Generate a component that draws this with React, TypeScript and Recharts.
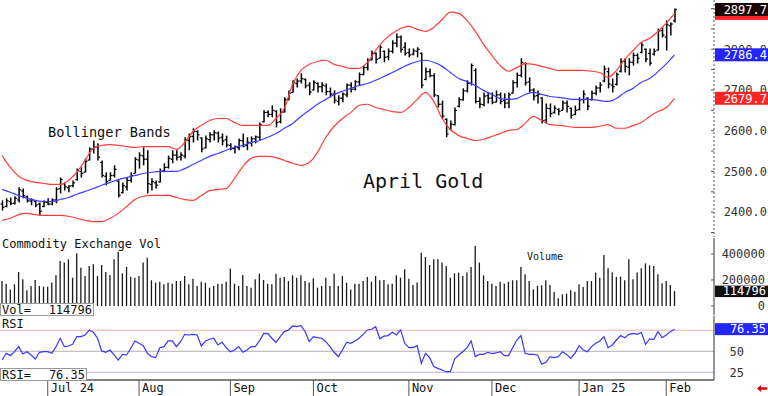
import React from 'react';
import { ComposedChart, Bar, Line, XAxis, YAxis, ReferenceLine } from 'recharts';

const MONO = '"DejaVu Sans Mono", monospace';
const W = 768;
const AXIS_W = 54;
const SLOTS = 172; // 163 sessions + free room on the right edge

// April gold, daily sessions 13 Jun 2024 .. 5 Feb 2025
const highs = [
  2429, 2434, 2436, 2439, 2461, 2458, 2441, 2434, 2429, 2424,
  2429, 2434, 2434, 2461, 2485, 2473, 2466, 2478, 2507, 2510,
  2532, 2559, 2576, 2569, 2527, 2498, 2498, 2515, 2478, 2473,
  2485, 2498, 2535, 2547, 2559, 2552, 2483, 2478, 2507, 2520,
  2539, 2552, 2552, 2547, 2584, 2593, 2606, 2601, 2584, 2588,
  2596, 2601, 2598, 2593, 2588, 2569, 2564, 2581, 2593, 2584,
  2586, 2588, 2620, 2650, 2650, 2662, 2650, 2655, 2682, 2699,
  2724, 2728, 2741, 2728, 2719, 2724, 2719, 2719, 2716, 2706,
  2699, 2687, 2694, 2716, 2719, 2724, 2743, 2760, 2778, 2797,
  2792, 2810, 2797, 2802, 2822, 2839, 2834, 2817, 2802, 2802,
  2805, 2792, 2755, 2753, 2741, 2687, 2674, 2630, 2625, 2657,
  2682, 2704, 2724, 2765, 2753, 2682, 2694, 2694, 2694, 2699,
  2694, 2692, 2694, 2724, 2743, 2778, 2768, 2731, 2704, 2699,
  2682, 2667, 2667, 2662, 2655, 2674, 2674, 2657, 2662, 2682,
  2699, 2682, 2699, 2711, 2719, 2760, 2755, 2728, 2743, 2778,
  2778, 2778, 2792, 2790, 2817, 2802, 2802, 2802, 2851, 2854,
  2871, 2866, 2900,
];
const lows = [
  2404, 2412, 2417, 2419, 2424, 2434, 2424, 2417, 2412, 2392,
  2412, 2417, 2417, 2422, 2446, 2453, 2449, 2461, 2478, 2485,
  2498, 2527, 2544, 2527, 2485, 2466, 2478, 2485, 2436, 2446,
  2453, 2473, 2495, 2507, 2515, 2446, 2453, 2458, 2473, 2498,
  2507, 2520, 2527, 2527, 2532, 2552, 2571, 2576, 2547, 2557,
  2571, 2576, 2571, 2564, 2559, 2552, 2544, 2552, 2559, 2552,
  2561, 2569, 2576, 2620, 2633, 2633, 2608, 2618, 2645, 2674,
  2694, 2706, 2716, 2704, 2687, 2699, 2694, 2694, 2687, 2682,
  2667, 2662, 2670, 2682, 2694, 2699, 2711, 2736, 2748, 2773,
  2765, 2778, 2768, 2773, 2790, 2805, 2792, 2785, 2780, 2785,
  2780, 2704, 2724, 2731, 2682, 2657, 2630, 2584, 2601, 2613,
  2657, 2674, 2694, 2711, 2667, 2655, 2660, 2667, 2665, 2670,
  2665, 2655, 2655, 2692, 2706, 2731, 2711, 2694, 2674, 2667,
  2618, 2618, 2633, 2642, 2638, 2650, 2645, 2630, 2638, 2650,
  2667, 2650, 2674, 2687, 2694, 2719, 2704, 2694, 2711, 2743,
  2743, 2736, 2760, 2765, 2790, 2768, 2760, 2785, 2797, 2829,
  2797, 2834, 2866,
];
const opens = [
  2420, 2414, 2426, 2422, 2430, 2452, 2438, 2427, 2426, 2420,
  2414, 2424, 2420, 2430, 2458, 2470, 2460, 2465, 2480, 2500,
  2498, 2528, 2556, 2560, 2522, 2488, 2478, 2490, 2476, 2448,
  2462, 2478, 2495, 2528, 2538, 2530, 2468, 2472, 2474, 2502,
  2510, 2530, 2540, 2536, 2538, 2576, 2586, 2598, 2582, 2558,
  2578, 2590, 2594, 2584, 2578, 2564, 2556, 2558, 2575, 2564,
  2570, 2580, 2584, 2622, 2645, 2640, 2648, 2622, 2646, 2678,
  2694, 2716, 2722, 2726, 2712, 2700, 2716, 2708, 2710, 2696,
  2690, 2672, 2680, 2688, 2712, 2702, 2720, 2738, 2755, 2774,
  2790, 2778, 2795, 2782, 2795, 2815, 2830, 2805, 2792, 2788,
  2795, 2790, 2726, 2745, 2735, 2686, 2665, 2628, 2604, 2615,
  2660, 2676, 2698, 2716, 2748, 2672, 2664, 2686, 2680, 2670,
  2688, 2674, 2668, 2692, 2718, 2736, 2765, 2720, 2700, 2686,
  2680, 2626, 2654, 2645, 2652, 2650, 2668, 2655, 2640, 2652,
  2676, 2680, 2676, 2692, 2705, 2722, 2745, 2712, 2714, 2746,
  2770, 2756, 2768, 2785, 2792, 2800, 2790, 2788, 2798, 2846,
  2830, 2858, 2870,
];
const closes = [
  2412, 2428, 2421, 2434, 2455, 2440, 2428, 2430, 2418, 2402,
  2425, 2420, 2430, 2456, 2480, 2462, 2464, 2472, 2502, 2495,
  2525, 2555, 2560, 2535, 2490, 2475, 2490, 2505, 2442, 2465,
  2478, 2490, 2530, 2540, 2530, 2470, 2475, 2466, 2500, 2510,
  2532, 2540, 2535, 2540, 2578, 2585, 2598, 2590, 2555, 2580,
  2590, 2595, 2582, 2575, 2565, 2556, 2560, 2576, 2562, 2572,
  2580, 2585, 2615, 2645, 2640, 2650, 2620, 2645, 2676, 2692,
  2718, 2722, 2728, 2710, 2695, 2718, 2708, 2712, 2696, 2690,
  2675, 2680, 2690, 2712, 2702, 2720, 2738, 2755, 2772, 2790,
  2775, 2805, 2780, 2795, 2815, 2830, 2800, 2790, 2786, 2796,
  2800, 2712, 2745, 2735, 2688, 2665, 2636, 2592, 2616, 2650,
  2676, 2698, 2716, 2760, 2672, 2665, 2685, 2680, 2670, 2688,
  2672, 2668, 2688, 2718, 2736, 2768, 2718, 2700, 2685, 2690,
  2625, 2655, 2642, 2655, 2648, 2668, 2660, 2638, 2650, 2676,
  2690, 2660, 2692, 2705, 2712, 2752, 2715, 2708, 2738, 2770,
  2758, 2768, 2785, 2778, 2810, 2776, 2766, 2795, 2845, 2835,
  2860, 2862, 2897.7,
];

// Bollinger bands, read every second session
const upperBand = [
  2539, 2510, 2488, 2478, 2473, 2471, 2468, 2468, 2478, 2498,
  2527, 2557, 2564, 2566, 2564, 2561, 2559, 2561, 2561, 2561,
  2561, 2554, 2571, 2598, 2613, 2625, 2630, 2630, 2620, 2613,
  2613, 2613, 2613, 2630, 2655, 2714, 2748, 2763, 2770, 2773,
  2763, 2758, 2753, 2753, 2768, 2797, 2822, 2839, 2851, 2856,
  2849, 2844, 2854, 2873, 2891, 2888, 2871, 2844, 2812, 2785,
  2760, 2746, 2755, 2765, 2763, 2758, 2753, 2748, 2748, 2748,
  2748, 2746, 2743, 2731, 2748, 2775, 2797, 2817, 2827, 2844,
  2864, 2888,
];
const midBand = [
  2456, 2449, 2441, 2434, 2429, 2426, 2426, 2431, 2436, 2444,
  2451, 2458, 2466, 2473, 2480, 2485, 2490, 2495, 2498, 2500,
  2500, 2500, 2507, 2517, 2527, 2537, 2544, 2552, 2559, 2564,
  2571, 2576, 2584, 2593, 2606, 2618, 2635, 2650, 2665, 2677,
  2689, 2697, 2704, 2711, 2716, 2724, 2733, 2743, 2753, 2763,
  2770, 2773, 2768, 2758, 2743, 2728, 2721, 2711, 2699, 2689,
  2679, 2677, 2679, 2689, 2694, 2689, 2684, 2682, 2679, 2677,
  2677, 2677, 2674, 2672, 2679, 2694, 2704, 2719, 2728, 2745,
  2764, 2786.4,
];
const lowerBand = [
  2380, 2385, 2394, 2397, 2394, 2392, 2392, 2392, 2390, 2385,
  2380, 2377, 2377, 2385, 2397, 2414, 2431, 2439, 2441, 2441,
  2441, 2436, 2431, 2429, 2441, 2453, 2456, 2458, 2483, 2512,
  2532, 2537, 2537, 2534, 2527, 2520, 2515, 2522, 2547, 2584,
  2611, 2630, 2645, 2662, 2665, 2657, 2652, 2647, 2645, 2657,
  2677, 2694, 2672, 2630, 2603, 2588, 2581, 2576, 2579, 2586,
  2593, 2601, 2603, 2618, 2635, 2625, 2615, 2613, 2611, 2608,
  2608, 2608, 2611, 2615, 2606, 2606, 2613, 2620, 2635, 2647,
  2657, 2679.7,
];

const volumes = [
  192000, 172000, 128000, 167000, 262000, 205000, 121000, 154000, 200000, 154000,
  149000, 149000, 180000, 236000, 346000, 334000, 359000, 218000, 405000, 295000,
  231000, 308000, 321000, 231000, 316000, 262000, 239000, 359000, 418000, 251000,
  300000, 226000, 218000, 231000, 334000, 372000, 198000, 180000, 187000, 167000,
  180000, 172000, 192000, 192000, 231000, 167000, 210000, 154000, 187000, 180000,
  141000, 154000, 172000, 172000, 187000, 287000, 172000, 154000, 239000, 154000,
  141000, 205000, 249000, 200000, 172000, 167000, 249000, 218000, 223000, 192000,
  236000, 218000, 236000, 192000, 180000, 213000, 141000, 154000, 218000, 154000,
  249000, 154000, 231000, 180000, 128000, 172000, 172000, 192000, 223000, 187000,
  231000, 198000, 200000, 167000, 172000, 236000, 218000, 282000, 210000, 162000,
  180000, 410000, 377000, 316000, 359000, 359000, 334000, 308000, 218000, 251000,
  257000, 231000, 257000, 300000, 462000, 334000, 236000, 192000, 172000, 154000,
  187000, 172000, 187000, 198000, 198000, 300000, 244000, 192000, 128000, 154000,
  159000, 198000, 162000, 108000, 59000, 90000, 95000, 121000, 110000, 167000,
  146000, 192000, 192000, 257000, 218000, 393000, 290000, 257000, 223000, 226000,
  198000, 359000, 205000, 257000, 290000, 328000, 313000, 308000, 244000, 175000,
  192000, 162000, 114796,
];

const rsi = [
  39.6, 47.6, 44.8, 49.5, 55.5, 46.8, 49.5, 45.6, 40.8, 48.8,
  49.5, 49.5, 47.6, 55.5, 65.5, 55.5, 56.3, 58.3, 67.4, 67.4,
  69.4, 75.4, 72.6, 65.5, 50.4, 48.8, 51.5, 45.6, 39.6, 46.3,
  45.6, 53.6, 62.3, 59.5, 56.7, 47.6, 43.6, 42.4, 54.3, 55.5,
  62.3, 62.3, 55.5, 61.4, 70.2, 69.4, 70.2, 69.4, 56.3, 62.3,
  64.3, 65.5, 57.5, 60.7, 54.3, 49.5, 51.5, 55.5, 48.8, 51.5,
  55.5, 55.5, 62.3, 71.0, 71.4, 65.5, 60.7, 67.4, 73.4, 75.4,
  80.1, 79.3, 80.5, 73.4, 61.4, 67.4, 66.2, 65.5, 61.4, 55.5,
  48.8, 43.6, 51.5, 60.7, 59.5, 62.3, 65.5, 70.2, 75.4, 76.2,
  79.3, 64.9, 68.0, 68.7, 72.6, 69.4, 75.4, 59.5, 54.3, 54.3,
  56.7, 35.7, 47.6, 42.4, 31.7, 29.7, 27.7, 25.7, 25.7, 40.8,
  45.6, 49.5, 54.3, 62.3, 43.6, 46.3, 46.3, 48.8, 47.2, 48.0,
  49.5, 44.8, 44.8, 54.3, 63.4, 68.7, 47.6, 46.3, 46.3, 45.6,
  34.5, 36.9, 43.6, 42.4, 43.6, 49.5, 46.3, 41.6, 47.6, 56.7,
  51.5, 49.5, 55.5, 59.5, 62.3, 67.4, 54.3, 57.5, 63.4, 68.7,
  66.2, 70.2, 71.4, 70.2, 72.6, 58.3, 64.7, 64.3, 73.4, 66.2,
  69.4, 73.4, 76.35,
];

const monthStarts = [
  { at: 11, label: 'Jul 24' },
  { at: 33, label: 'Aug' },
  { at: 55, label: 'Sep' },
  { at: 75, label: 'Oct' },
  { at: 98, label: 'Nov' },
  { at: 118, label: 'Dec' },
  { at: 139, label: 'Jan 25' },
  { at: 160, label: 'Feb' },
];

const priceLabels = [2400, 2500, 2600, 2700, 2800];
const priceMarks = [2350, 2400, 2450, 2500, 2550, 2600, 2650, 2700, 2750, 2800, 2850, 2900];
const volLabels = [0, 200000, 400000];
const rsiLabels = [50, 25];
const rsiGuides = [
  { v: 75, c: '#ffb0b0' },
  { v: 50, c: '#b0b0b0' },
  { v: 25, c: '#b0b0ff' },
];

const n = closes.length;
const lastVol = volumes[n - 1];
const lastRsi = rsi[n - 1];
// last-value tags on the price scale (upper band tag sits under the close tag)
const priceTags = [
  { v: lowerBand[lowerBand.length - 1], bg: '#ff2424', label: true },
  { v: midBand[midBand.length - 1], bg: '#2424ff', label: true },
  { v: upperBand[upperBand.length - 1], bg: '#ff2424', label: false },
  { v: closes[n - 1], bg: '#1a0404', label: true },
];

const rows = closes.map((c, i) => ({
  i,
  range: [lows[i], highs[i]],
  o: opens[i],
  c,
  vol: volumes[i],
  rsi: rsi[i],
}));

const bandRows = upperBand.map((up, k) => ({
  i: k * 2,
  up,
  mid: midBand[k],
  lo: lowerBand[k],
}));

const xDomain = [-0.5, SLOTS - 0.5];
const txt = { fontFamily: MONO, fontSize: 12 };

function OhlcBar(props: any) {
  const { x, y, width, height, payload } = props;
  if (!payload || !payload.range) return <g />;
  const [lo, hi] = payload.range;
  const top = Math.min(y, y + height);
  const h = Math.abs(height);
  const cx = x + width / 2;
  const at = (v: number) => top + ((hi - v) / (hi - lo || 1)) * h;
  const yo = at(payload.o);
  const yc = at(payload.c);
  return (
    <g stroke="#000">
      <line x1={cx} x2={cx} y1={top} y2={top + h} strokeWidth={1.5} />
      <line x1={cx - 2} x2={cx} y1={yo} y2={yo} strokeWidth={1.2} />
      <line x1={cx} x2={cx + 2} y1={yc} y2={yc} strokeWidth={1.2} />
    </g>
  );
}

function VolStick(props: any) {
  const { x, y, width, height } = props;
  if (!height) return <g />;
  const cx = x + width / 2;
  return (
    <line x1={cx} x2={cx} y1={Math.min(y, y + height)} y2={Math.max(y, y + height)} stroke="#1a1a1a" strokeWidth={1.3} />
  );
}

function PriceTick(props: any) {
  const { x, y, payload } = props;
  const v = payload.value;
  const tag = priceTags.find((t) => t.v === v);
  if (tag) {
    return (
      <g>
        <rect x={x + 1} y={y - 6.5} width={AXIS_W - 1} height={13} fill={tag.bg} />
        {tag.label && (
          <text x={x + 53} y={y + 4.3} textAnchor="end" fill="#fff" {...txt}>{v.toFixed(1)}</text>
        )}
      </g>
    );
  }
  return (
    <g>
      <line x1={x - 3} x2={x} y1={y} y2={y} stroke="#555" />
      {priceLabels.includes(v) && (
        <text x={x + 53} y={y + 4.3} textAnchor="end" fill="#333" {...txt}>{v.toFixed(1)}</text>
      )}
    </g>
  );
}

function LeftMark(props: any) {
  const { x, y } = props;
  return <line x1={x} x2={x + 3} y1={y} y2={y} stroke="#555" />;
}

function VolTick(props: any) {
  const { x, y, payload } = props;
  const v = payload.value;
  if (!volLabels.includes(v)) {
    return (
      <g>
        <rect x={x + 1} y={y - 5.5} width={AXIS_W - 1} height={11.5} fill="#111" />
        <text x={x + 52} y={y + 4.3} textAnchor="end" fill="#fff" {...txt}>{String(v)}</text>
      </g>
    );
  }
  return (
    <g>
      <line x1={x - 3} x2={x} y1={y} y2={y} stroke="#555" />
      <text x={x + 51} y={y + 3.8} textAnchor="end" fill="#333" {...txt}>{String(v)}</text>
    </g>
  );
}

function RsiTick(props: any) {
  const { x, y, payload } = props;
  const v = payload.value;
  if (!rsiLabels.includes(v)) {
    return (
      <g>
        <rect x={x + 1} y={y - 6} width={AXIS_W - 1} height={12} fill="#2424ff" />
        <text x={x + 52} y={y + 4.3} textAnchor="end" fill="#fff" {...txt}>{v.toFixed(2)}</text>
      </g>
    );
  }
  return <text x={x + 30} y={y + 4.3} textAnchor="end" fill="#333" {...txt}>{String(v)}</text>;
}

function MonthTick(props: any) {
  const { x, y, payload } = props;
  const m = monthStarts.find((s) => s.at === payload.value);
  if (!m) return <g />;
  return (
    <g>
      <line x1={x} x2={x} y1={y} y2={y + 16} stroke="#555" />
      <text x={x + 3} y={y + 12} fill="#111" {...txt}>{m.label}</text>
    </g>
  );
}

const flatX = (
  <XAxis
    dataKey="i"
    type="number"
    domain={xDomain}
    allowDataOverflow
    tick={false}
    tickLine={false}
    height={0}
    axisLine={{ stroke: '#000' }}
  />
);

export default function App() {
  return (
    <div style={{ position: 'absolute', left: 0, top: 0, width: W, height: 396, background: '#fff', overflow: 'hidden' }}>
      <div style={{ position: 'absolute', left: 0, top: 0 }}>
        <ComposedChart width={W} height={238} data={rows} margin={{ top: 0, right: 0, bottom: 1, left: 0 }}>
          {flatX}
          <YAxis
            yAxisId="p"
            orientation="right"
            width={AXIS_W}
            domain={[2339, 2921]}
            ticks={[...priceMarks, ...priceTags.map((t) => t.v)]}
            interval={0}
            tickSize={0}
            tickMargin={0}
            tickLine={false}
            axisLine={{ stroke: '#555', strokeDasharray: '2 2' }}
            tick={PriceTick}
            allowDataOverflow
          />
          <YAxis
            yAxisId="m"
            orientation="left"
            width={0}
            domain={[2339, 2921]}
            ticks={priceMarks}
            interval={0}
            tickSize={0}
            tickMargin={0}
            tickLine={false}
            axisLine={false}
            tick={LeftMark}
            allowDataOverflow
          />
          <Line yAxisId="p" data={bandRows} type="monotone" dataKey="up" stroke="#ff3c3c" strokeWidth={1.2} dot={false} activeDot={false} isAnimationActive={false} />
          <Line yAxisId="p" data={bandRows} type="monotone" dataKey="lo" stroke="#ff3c3c" strokeWidth={1.2} dot={false} activeDot={false} isAnimationActive={false} />
          <Line yAxisId="p" data={bandRows} type="monotone" dataKey="mid" stroke="#3c3cff" strokeWidth={1.2} dot={false} activeDot={false} isAnimationActive={false} />
          <Bar yAxisId="p" dataKey="range" barSize={3} shape={OhlcBar} activeBar={false} isAnimationActive={false} />
        </ComposedChart>
      </div>

      <div style={{ position: 'absolute', left: 0, top: 238 }}>
        <ComposedChart width={W} height={78} data={rows} margin={{ top: 0, right: 0, bottom: 1, left: 0 }}>
          {flatX}
          <YAxis
            orientation="right"
            width={AXIS_W}
            domain={[-69000, 523000]}
            ticks={[...volLabels, lastVol]}
            interval={0}
            tickSize={0}
            tickMargin={0}
            tickLine={false}
            axisLine={{ stroke: '#333' }}
            tick={VolTick}
            allowDataOverflow
          />
          <Bar dataKey="vol" barSize={2} shape={VolStick} activeBar={false} isAnimationActive={false} />
        </ComposedChart>
      </div>

      <div style={{ position: 'absolute', left: 0, top: 316 }}>
        <ComposedChart width={W} height={80} data={rows} margin={{ top: 0, right: 0, bottom: 0, left: 0 }}>
          <XAxis
            dataKey="i"
            type="number"
            domain={xDomain}
            allowDataOverflow
            ticks={monthStarts.map((m) => m.at)}
            interval={0}
            height={16}
            tickSize={0}
            tickMargin={0}
            tickLine={false}
            axisLine={{ stroke: '#000' }}
            tick={MonthTick}
          />
          <YAxis
            orientation="right"
            width={AXIS_W}
            domain={[15.8, 92]}
            ticks={[...rsiLabels, lastRsi]}
            interval={0}
            tickSize={0}
            tickMargin={0}
            tickLine={false}
            axisLine={{ stroke: '#333' }}
            tick={RsiTick}
            allowDataOverflow
          />
          {rsiGuides.map((g) => (
            <ReferenceLine key={g.v} y={g.v} stroke={g.c} strokeWidth={1} />
          ))}
          <Line type="linear" dataKey="rsi" stroke="#3636ff" strokeWidth={1.2} dot={false} activeDot={false} isAnimationActive={false} />
        </ComposedChart>
      </div>

      <svg width={W} height={396} style={{ position: 'absolute', left: 0, top: 0, pointerEvents: 'none' }}>
        <g fontFamily={MONO} fill="#111">
          <text x={48} y={137} fontSize={13.6}>Bollinger Bands</text>
          <text x={363} y={188} fontSize={20}>April Gold</text>
          <text x={2} y={248} fontSize={12}>Commodity Exchange Vol</text>
          <text x={527} y={260} fontSize={10}>Volume</text>
          <text x={2} y={328} fontSize={12}>RSI</text>
        </g>
        <rect x={0.5} y={303.5} width={93} height={12} fill="#fff" stroke="#999" />
        <text x={2} y={313.5} fontFamily={MONO} fontSize={12} fill="#111">Vol=</text>
        <text x={92} y={313.5} fontFamily={MONO} fontSize={12} fill="#111" textAnchor="end">{String(lastVol)}</text>
        <rect x={0.5} y={368.5} width={86} height={12} fill="#fff" stroke="#999" />
        <text x={2} y={378.5} fontFamily={MONO} fontSize={12} fill="#111">RSI=</text>
        <text x={85} y={378.5} fontFamily={MONO} fontSize={12} fill="#111" textAnchor="end">{lastRsi.toFixed(2)}</text>
        <polygon points="757,388.5 761,385 761,387.3 767,387.3 767,389.7 761,389.7 761,392" fill="#e00000" />
      </svg>
    </div>
  );
}
